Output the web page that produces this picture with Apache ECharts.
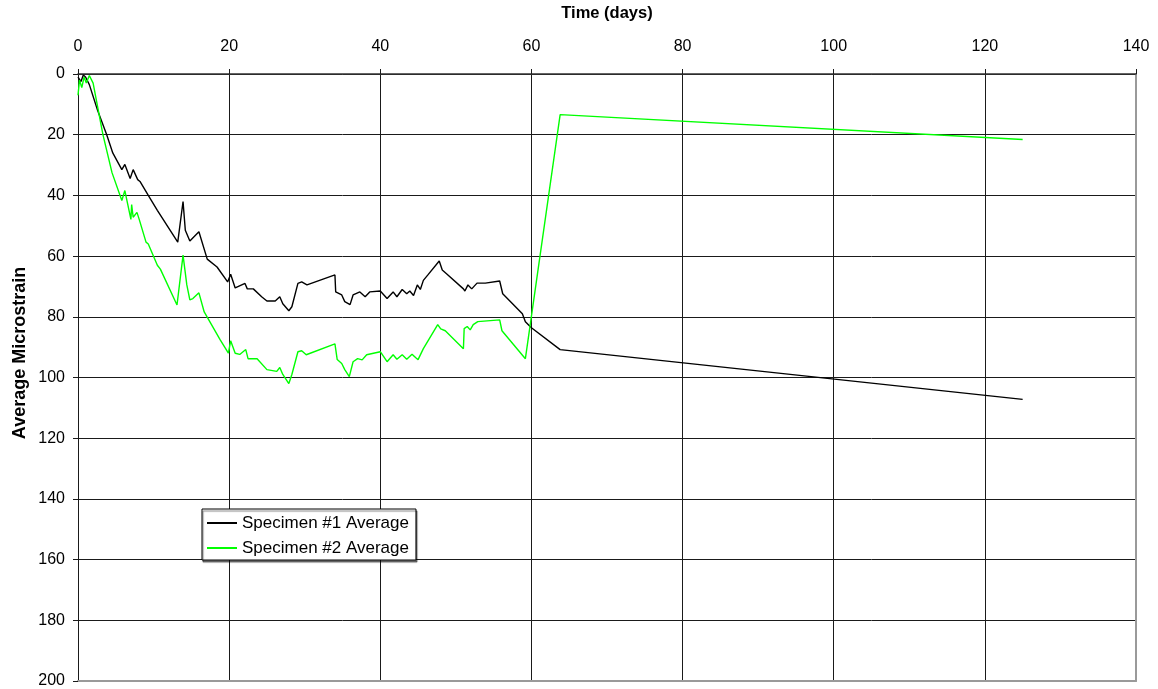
<!DOCTYPE html>
<html>
<head>
<meta charset="utf-8">
<script src="https://cdn.jsdelivr.net/npm/echarts@6/dist/echarts.min.js"></script>
<style>
  html, body { margin: 0; padding: 0; background: #fff; }
  #chart { width: 1158px; height: 689px; }
</style>
</head>
<body>
<div id="chart"></div>
<script>
// Strain readings over time for two specimens (days, microstrain)
const s1Days = [0, 0.4, 0.7, 1.0, 1.5, 2.6, 3.8, 4.6, 5.8, 6.2, 6.9, 7.3, 7.9, 8.2, 9.3, 10.5, 13.2, 13.9, 14.2, 14.8,
  16.0, 17.1, 18.4, 19.8, 20.2, 20.8, 22.1, 22.4, 23.2, 24.3, 25.0, 26.1, 26.7, 27.1, 27.9, 28.3, 29.1, 29.6, 30.3,
  34.0, 34.1, 34.9, 35.3, 36.0, 36.4, 37.3, 38.0, 38.6, 40.0, 40.9, 41.7, 42.2, 42.9, 43.5, 43.9, 44.4, 44.9, 45.3,
  45.7, 46.3, 47.8, 48.2, 48.8, 51.0, 51.2, 51.6, 52.1, 52.8, 53.9, 55.8, 56.2, 58.8, 59.2, 60.0, 63.8, 125];
const s1Strain = [1, 2.5, 0.3, 1, 3.5, 12, 20, 26, 31.5, 29.8, 34.4, 31.5, 34.8, 35.4, 40, 44.9, 55.4, 42, 51.5, 55,
  52, 61, 63.6, 68.5, 66, 70.5, 69, 70.8, 70.8, 73.4, 74.8, 74.8, 73.4, 75.7, 78, 76.7, 69, 68.5, 69.5,
  66.2, 71.8, 72.8, 75, 76, 72.8, 71.8, 73.4, 71.8, 71.5, 74, 71.8, 73.4, 71, 72.4, 71.5, 73, 69.5, 71,
  68, 66.2, 61.6, 64.6, 65.9, 70.8, 71.5, 69.5, 70.8, 68.9, 68.9, 68.2, 72.4, 79, 81.6, 83.6, 90.8, 107.2];

const s2Days = [0, 0.2, 0.5, 0.8, 1.1, 1.5, 2.0, 3.3, 4.5, 5.8, 6.2, 7.0, 7.1, 7.3, 7.8, 8.1, 9.0, 9.3, 10.5, 10.9,
  13.1, 13.9, 14.4, 14.8, 15.2, 16.0, 16.7, 18.8, 19.9, 20.2, 20.8, 21.4, 22.2, 22.5, 23.7, 25.0, 26.3, 26.7, 27.1,
  27.9, 28.3, 29.1, 29.6, 30.2, 34.0, 34.3, 34.9, 35.3, 35.9, 36.4, 37.0, 37.6, 38.2, 40.0, 40.9, 41.7, 42.2, 42.9,
  43.5, 44.2, 44.7, 45.0, 45.7, 47.6, 48.0, 48.6, 51.0, 51.1, 51.5, 51.9, 52.3, 52.9, 55.8, 56.1, 59.2, 63.8, 125];
const s2Strain = [7, 2, 4.5, 1, 3, 0.5, 3, 20, 32.5, 41.7, 38.4, 47.9, 43, 47.2, 45.6, 47.9, 55.4, 56, 63, 64.3,
  76.1, 59.7, 69.5, 74.4, 74, 72.1, 78.4, 87.5, 92, 87.9, 92, 92.4, 90.8, 93.8, 93.8, 97.4, 98, 96.7, 99,
  102, 99, 91.5, 91.2, 92.5, 88.9, 94.1, 95.4, 97.4, 99.7, 94.8, 93.8, 94.2, 92.5, 91.5, 94.8, 92.5, 94, 92.5,
  94, 92.3, 93.5, 94.1, 90.5, 82.6, 84, 84.6, 90.5, 83.9, 83.2, 84.3, 82.6, 81.6, 81, 84.6, 93.8, 13.4, 21.6];

const seriesNames = ['Specimen #1 Average', 'Specimen #2 Average'];
const xTitle = 'Time (days)';
const yTitle = 'Average Microstrain';

const pairs = (xs, ys) => xs.map((x, i) => [x, ys[i]]);

const FONT = '"Liberation Sans", Arial, sans-serif';
const gridColor = '#1a1a1a';
const frameColor = '#9a9a9a';

// Extra axes that only draw the grey frame on the right and bottom edges
const frameAxis = {
  type: 'value',
  axisLine: { show: true, onZero: false, lineStyle: { color: frameColor, width: 2 } },
  axisTick: { show: false },
  axisLabel: { show: false },
  splitLine: { show: false }
};

const chart = echarts.init(document.getElementById('chart'), null, { renderer: 'canvas' });
chart.setOption({
  animation: false,
  backgroundColor: '#fff',
  grid: { left: 78, right: 22, top: 71, bottom: 8, containLabel: false },
  xAxis: [{
    type: 'value',
    position: 'top',
    min: 0, max: 140, interval: 20,
    name: xTitle,
    nameLocation: 'middle',
    nameGap: 52,
    nameTextStyle: { fontFamily: FONT, fontSize: 16.5, fontWeight: 'bold', color: '#000' },
    axisLine: { show: true, onZero: false, lineStyle: { color: '#333', width: 1.5 } },
    axisTick: { show: true, inside: false, length: 5, lineStyle: { color: gridColor } },
    axisLabel: { fontFamily: FONT, fontSize: 16, color: '#000', margin: 19 },
    splitLine: { show: true, lineStyle: { color: gridColor, width: 1 } }
  }, Object.assign({ position: 'bottom', min: 0, max: 140 }, frameAxis)],
  yAxis: [{
    type: 'value',
    inverse: true,
    min: 0, max: 200, interval: 20,
    axisLine: { show: true, onZero: false, lineStyle: { color: gridColor, width: 1 } },
    axisTick: { show: true, inside: false, length: 5, lineStyle: { color: gridColor } },
    axisLabel: { fontFamily: FONT, fontSize: 16, color: '#000', margin: 13 },
    splitLine: { show: true, lineStyle: { color: gridColor, width: 1 } }
  }, Object.assign({ position: 'right', inverse: true, min: 0, max: 200 }, frameAxis)],
  graphic: [{
    type: 'text',
    x: 11,
    y: 353,
    rotation: Math.PI / 2,
    style: {
      text: yTitle,
      font: 'bold 18px ' + FONT,
      fill: '#000',
      align: 'center',
      verticalAlign: 'top'
    }
  }],
  legend: {
    orient: 'vertical',
    left: 202,
    top: 509,
    padding: [5, 7, 3, 5],
    itemGap: 7,
    itemWidth: 30,
    itemHeight: 2,
    icon: 'rect',
    backgroundColor: '#fff',
    borderColor: '#000',
    borderWidth: 1,
    borderRadius: 0,
    shadowColor: 'rgba(0,0,0,0.5)',
    shadowOffsetX: 1,
    shadowOffsetY: 2,
    shadowBlur: 1,
    textStyle: { fontFamily: FONT, fontSize: 17, lineHeight: 18, color: '#000' },
    data: seriesNames
  },
  series: [
    {
      name: seriesNames[0],
      type: 'line',
      xAxisIndex: 0, yAxisIndex: 0,
      data: pairs(s1Days, s1Strain),
      showSymbol: false,
      symbol: 'none',
      itemStyle: { color: '#000' },
      lineStyle: { color: '#000', width: 1.4 }
    },
    {
      name: seriesNames[1],
      type: 'line',
      xAxisIndex: 0, yAxisIndex: 0,
      data: pairs(s2Days, s2Strain),
      showSymbol: false,
      symbol: 'none',
      itemStyle: { color: '#00ff00' },
      lineStyle: { color: '#00ff00', width: 1.4 }
    }
  ]
});
</script>
</body>
</html>
